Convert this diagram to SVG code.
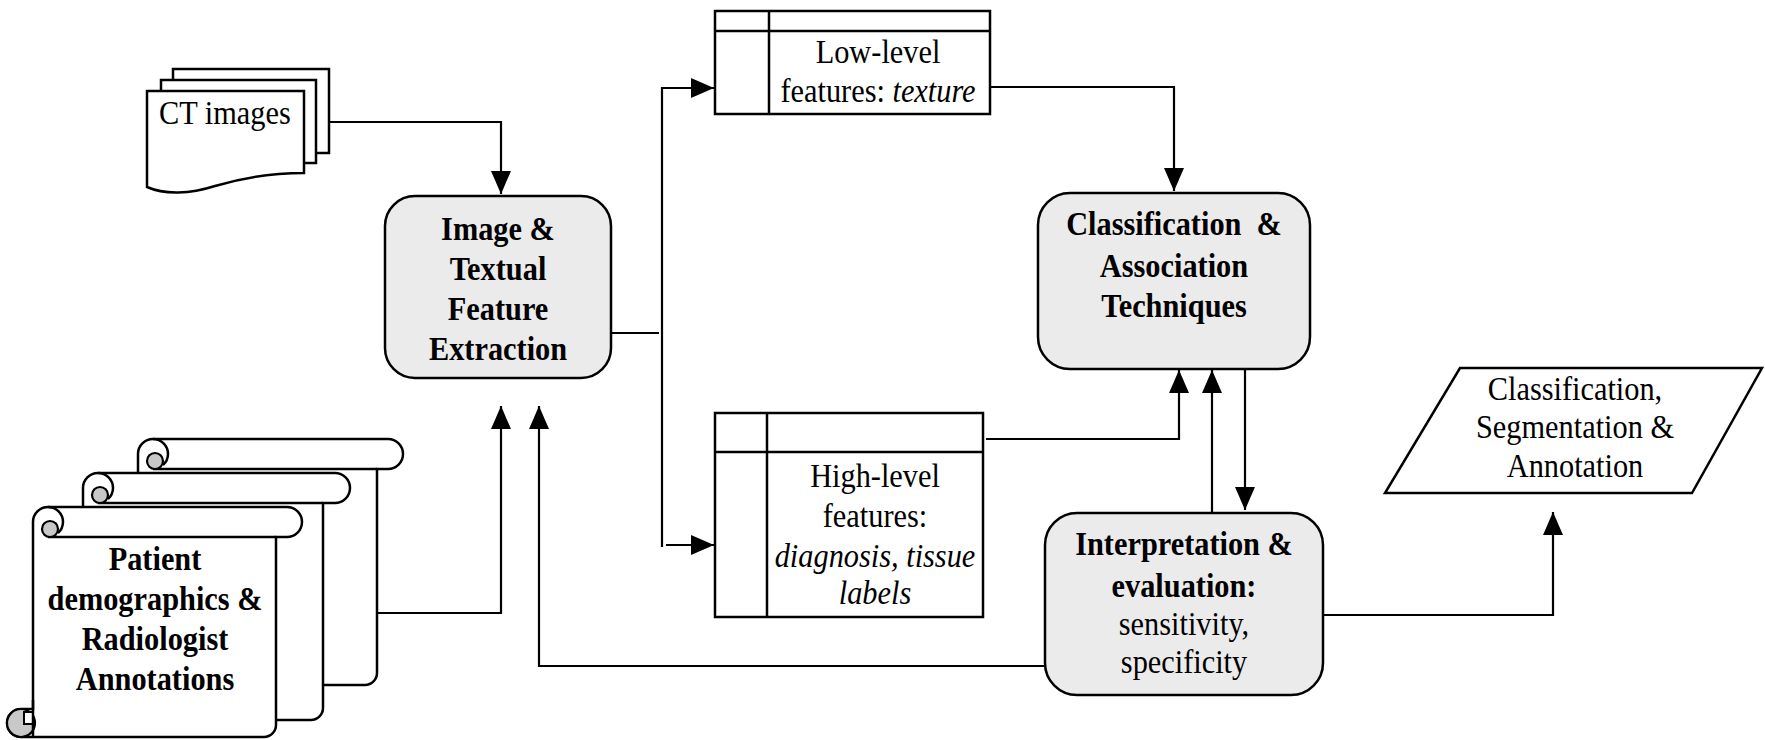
<svg xmlns="http://www.w3.org/2000/svg" width="1765" height="740" viewBox="0 0 1765 740">
<defs>
<style>
.shape{fill:#fff;stroke:#000;stroke-width:2.5}
.proc{fill:#ebebeb;stroke:#000;stroke-width:2.5}
.curl{fill:#c8c8c8;stroke:#000;stroke-width:2.2}
.ln{fill:none;stroke:#000;stroke-width:2.5}
.conn{fill:none;stroke:#000;stroke-width:2.2}
.arr{marker-end:url(#ah)}
text{font-family:"Liberation Serif","Times New Roman",serif;font-size:33px;fill:#000;text-anchor:middle}
.b{font-weight:bold}
.i{font-style:italic}
</style>
<marker id="ah" markerUnits="userSpaceOnUse" markerWidth="23" markerHeight="20" refX="23" refY="10" orient="auto">
<path d="M0,0 L23,10 L0,20 Z" fill="#000"/>
</marker>
</defs>
<rect width="1765" height="740" fill="#fff"/>

<g id="connectors">
<path class="conn arr" d="M329,122 H501 V194"/>
<path class="conn arr" d="M377,613 H501 V406"/>
<path class="conn arr" d="M1045,666 H539 V406"/>
<path class="conn" d="M611,333 H659"/>
<path class="conn arr" d="M662,547 V88 H714"/>
<path class="conn arr" d="M666,545 H714"/>
<path class="conn arr" d="M990,87 H1174 V191"/>
<path class="conn arr" d="M986,439 H1179 V370"/>
<path class="conn arr" d="M1212,512 V370"/>
<path class="conn arr" d="M1245,369 V510"/>
<path class="conn arr" d="M1323,615 H1553 V512"/>
</g>

<g id="ct-images">
<rect class="shape" x="173" y="69" width="156" height="84"/>
<rect class="shape" x="161" y="80" width="155" height="83"/>
<path class="shape" d="M147,91 H304 V173 C275,173 245,177 215,186 C190,194 165,195 147,187 Z"/>
<text transform="translate(159,0) scale(0.92,1)" x="0" y="124" style="text-anchor:start">CT images</text>
</g>

<g id="patient-annotations">
<path class="shape" d="M153,439 H388 A15,15 0 0 1 388,469 H377 V673 A12,12 0 0 1 365,685 H138 V454 A15,15 0 0 1 153,439 Z"/>
<path class="ln" d="M153,469 H377 M153,439 A15,15 0 0 1 168,454 A15,15 0 0 1 163,465"/>
<circle class="curl" cx="155" cy="461" r="8"/>
<path class="shape" d="M98,473 H335 A15,15 0 0 1 335,503 H323 V708 A12,12 0 0 1 311,720 H83 V488 A15,15 0 0 1 98,473 Z"/>
<path class="ln" d="M98,503 H323 M98,473 A15,15 0 0 1 113,488 A15,15 0 0 1 108,499"/>
<circle class="curl" cx="100" cy="495" r="8"/>
<path class="shape" d="M48,507 H287 A15,15 0 0 1 287,537 H276 V725 A12,12 0 0 1 264,737 H21 A14,14 0 0 1 21,709 H33 V522 A15,15 0 0 1 48,507 Z"/>
<path class="ln" d="M48,537 H276 M48,507 A15,15 0 0 1 63,522 A15,15 0 0 1 58,533"/>
<circle class="curl" cx="50" cy="529" r="8"/>
<circle class="curl" cx="21" cy="723" r="14"/>
<path d="M33,712 H24 V724 H33" fill="#fff" stroke="#000" stroke-width="2"/>
<path class="ln" d="M33,700 V737"/>
<g transform="translate(155,0) scale(0.92,1)">
<text class="b" x="0" y="570">Patient</text>
<text class="b" x="0" y="610">demographics &amp;</text>
<text class="b" x="0" y="650">Radiologist</text>
<text class="b" x="0" y="690">Annotations</text>
</g>
</g>

<g id="feature-extraction">
<rect class="proc" x="385" y="196" width="226" height="182" rx="30"/>
<g transform="translate(498,0) scale(0.92,1)">
<text class="b" x="0" y="240">Image &amp;</text>
<text class="b" x="0" y="280">Textual</text>
<text class="b" x="0" y="320">Feature</text>
<text class="b" x="0" y="360">Extraction</text>
</g>
</g>

<g id="low-level">
<rect class="shape" x="715" y="11" width="275" height="103"/>
<path class="ln" d="M769,11 V114 M715,31 H990"/>
<g transform="translate(878,0) scale(0.92,1)">
<text x="0" y="63">Low-level</text>
<text x="0" y="102">features: <tspan class="i">texture</tspan></text>
</g>
</g>

<g id="high-level">
<rect class="shape" x="715" y="413" width="268" height="204"/>
<path class="ln" d="M767,413 V617 M715,452 H983"/>
<g transform="translate(875,0) scale(0.92,1)">
<text x="0" y="487">High-level</text>
<text x="0" y="527">features:</text>
<text class="i" x="0" y="567">diagnosis, tissue</text>
<text class="i" x="0" y="604">labels</text>
</g>
</g>

<g id="classification">
<rect class="proc" x="1038" y="193" width="272" height="176" rx="32"/>
<g transform="translate(1174,0) scale(0.92,1)">
<text class="b" x="0" y="235" xml:space="preserve">Classification  &amp;</text>
<text class="b" x="0" y="277">Association</text>
<text class="b" x="0" y="317">Techniques</text>
</g>
</g>

<g id="interpretation">
<rect class="proc" x="1045" y="513" width="278" height="182" rx="32"/>
<g transform="translate(1184,0) scale(0.92,1)">
<text class="b" x="0" y="555">Interpretation &amp;</text>
<text class="b" x="0" y="597">evaluation:</text>
<text x="0" y="635">sensitivity,</text>
<text x="0" y="673">specificity</text>
</g>
</g>

<g id="output">
<polygon class="shape" points="1460,368 1762,368 1692,493 1385,493"/>
<g transform="translate(1575,0) scale(0.92,1)">
<text x="0" y="400">Classification,</text>
<text x="0" y="438">Segmentation &amp;</text>
<text x="0" y="477">Annotation</text>
</g>
</g>
</svg>
